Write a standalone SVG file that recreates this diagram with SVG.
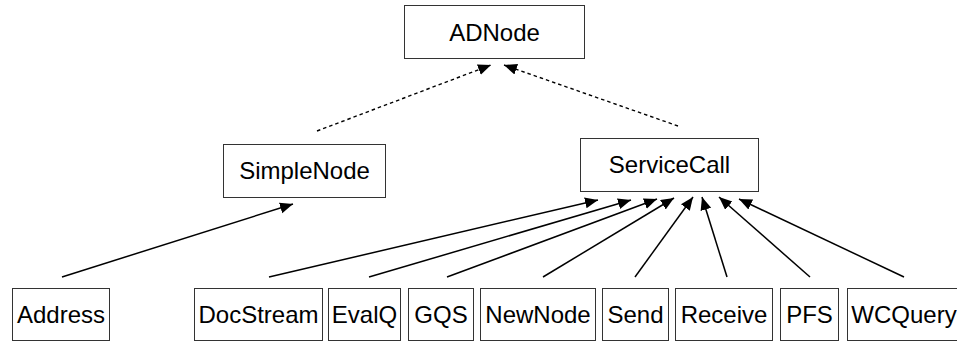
<svg xmlns="http://www.w3.org/2000/svg" width="957" height="341" viewBox="0 0 957 341">
<defs>
<style>
.box{fill:#fff;stroke:#333;stroke-width:1}
.lbl{font-family:"Liberation Sans",Arial,sans-serif;font-size:24px;fill:#000;text-anchor:middle}
.edge{stroke:#000;stroke-width:1.5;fill:none}
.dash{stroke:#000;stroke-width:1.4;stroke-dasharray:3.5,3;fill:none}
</style>
<marker id="ah" markerUnits="userSpaceOnUse" markerWidth="14" markerHeight="12" refX="13" refY="5.5" orient="auto">
<path d="M0,0 L13,5.5 L0,11 z" fill="#000" stroke="none"/>
</marker>
</defs>
<rect width="957" height="341" fill="#fff"/>
<g id="connectors">
<line class="dash" x1="317" y1="131" x2="491" y2="65" marker-end="url(#ah)"/>
<line class="dash" x1="678" y1="126" x2="504" y2="65" marker-end="url(#ah)"/>
<line class="edge" x1="62" y1="277" x2="293" y2="204" marker-end="url(#ah)"/>
<line class="edge" x1="269" y1="277" x2="598" y2="200" marker-end="url(#ah)"/>
<line class="edge" x1="369" y1="277" x2="631" y2="200" marker-end="url(#ah)"/>
<line class="edge" x1="447" y1="277" x2="657" y2="199" marker-end="url(#ah)"/>
<line class="edge" x1="543" y1="277" x2="674" y2="198" marker-end="url(#ah)"/>
<line class="edge" x1="635" y1="277" x2="693" y2="197" marker-end="url(#ah)"/>
<line class="edge" x1="727" y1="277" x2="702" y2="197" marker-end="url(#ah)"/>
<line class="edge" x1="810" y1="277" x2="719" y2="197" marker-end="url(#ah)"/>
<line class="edge" x1="904" y1="277" x2="739" y2="199" marker-end="url(#ah)"/>
</g>
<g id="ADNode"><rect class="box" x="404.5" y="5.5" width="180" height="53"/><text class="lbl" x="494.5" y="41">ADNode</text></g>
<g id="SimpleNode"><rect class="box" x="223.5" y="144.5" width="162" height="53"/><text class="lbl" x="304.5" y="179">SimpleNode</text></g>
<g id="ServiceCall"><rect class="box" x="580.5" y="138.5" width="178" height="53"/><text class="lbl" x="669.5" y="173">ServiceCall</text></g>
<g id="Address"><rect class="box" x="12.5" y="288.5" width="97" height="52"/><text class="lbl" x="61" y="323">Address</text></g>
<g id="DocStream"><rect class="box" x="194.5" y="288.5" width="128" height="52"/><text class="lbl" x="258.5" y="323">DocStream</text></g>
<g id="EvalQ"><rect class="box" x="328.5" y="288.5" width="72" height="52"/><text class="lbl" x="364.5" y="323">EvalQ</text></g>
<g id="GQS"><rect class="box" x="408.5" y="288.5" width="65" height="52"/><text class="lbl" x="441" y="323">GQS</text></g>
<g id="NewNode"><rect class="box" x="480.5" y="288.5" width="115" height="52"/><text class="lbl" x="538" y="323">NewNode</text></g>
<g id="Send"><rect class="box" x="602.5" y="288.5" width="66" height="52"/><text class="lbl" x="635.5" y="323">Send</text></g>
<g id="Receive"><rect class="box" x="675.5" y="288.5" width="97" height="52"/><text class="lbl" x="724" y="323">Receive</text></g>
<g id="PFS"><rect class="box" x="780.5" y="288.5" width="58" height="52"/><text class="lbl" x="809.5" y="323">PFS</text></g>
<g id="WCQuery"><rect class="box" x="847.5" y="288.5" width="116" height="52"/><text class="lbl" x="904" y="323">WCQuery</text></g>
</svg>
